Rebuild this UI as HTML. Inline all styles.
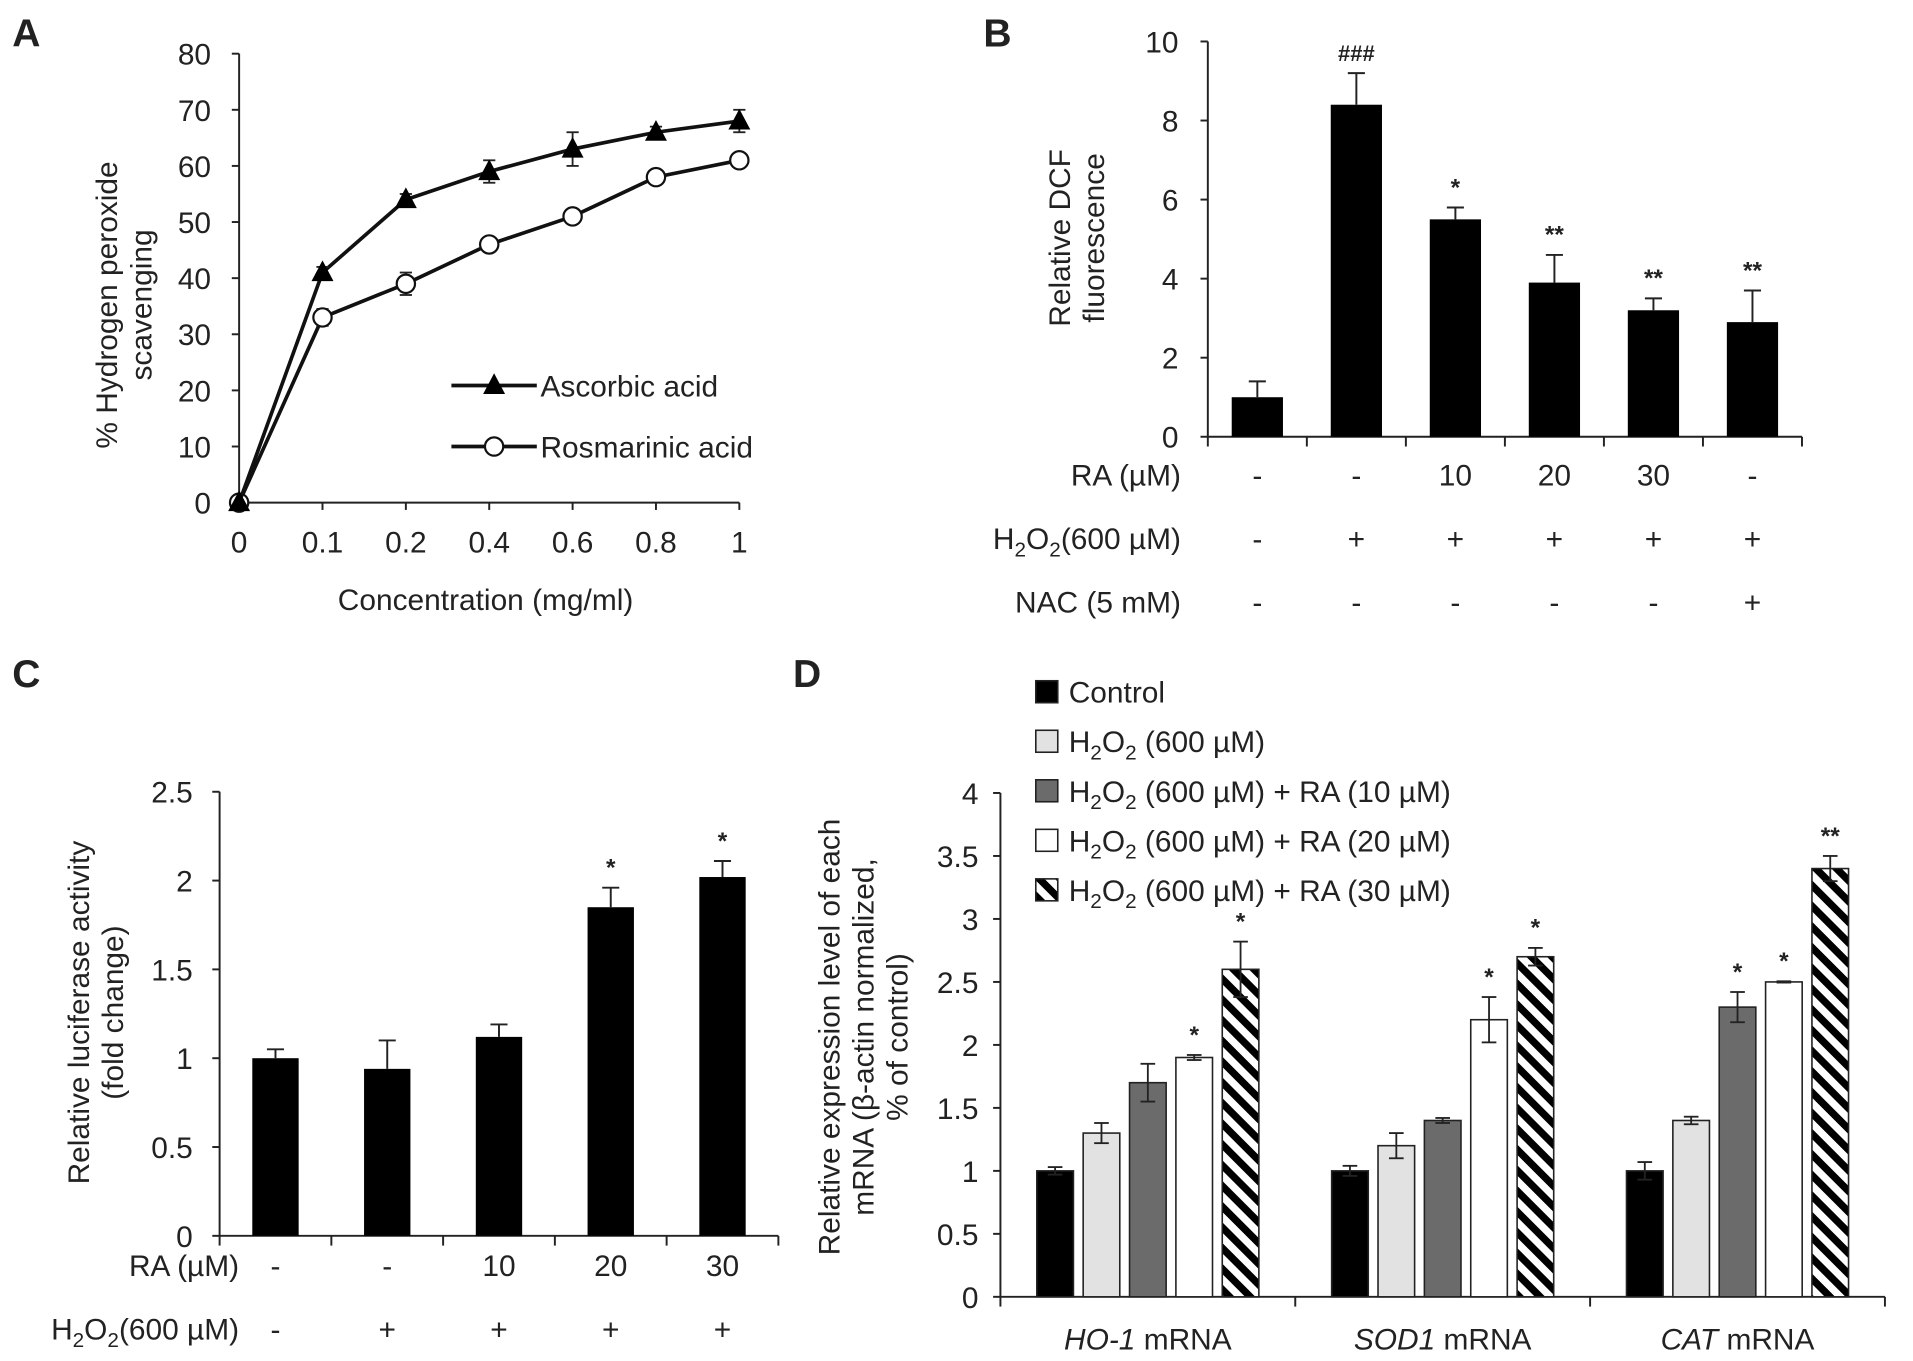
<!DOCTYPE html>
<html><head><meta charset="utf-8"><style>
html,body{margin:0;padding:0;background:#fff;}
svg{display:block;font-family:"Liberation Sans",Arial,sans-serif;}
text{fill:#222;}
</style></head><body>
<svg id="fig" width="1913" height="1361" viewBox="0 0 1568 1115.6" preserveAspectRatio="none" xmlns="http://www.w3.org/2000/svg">
<defs>
<pattern id="hatch" patternUnits="userSpaceOnUse" width="12" height="12" patternTransform="rotate(45)">
<rect width="12" height="12" fill="#fff"/><rect width="12" height="6" fill="#000"/>
</pattern>
</defs>
<g id="pA"></g>
<g id="pB"></g>
<g id="pC"></g>
<g id="pD"></g>
</svg>
<script>
// ---- Panel A data ----
const aCats = ["0","0.1","0.2","0.4","0.6","0.8","1"];
const aAsc = [0,41,54,59,63,66,68];
const aAscErr = [0,1,1,2,3,1,2];
const aRos = [0,33,39,46,51,58,61];
const aRosErr = [0,1.5,2,1,0.8,0.8,0.8];
const aTicks = [0,10,20,30,40,50,60,70,80];
// ---- Panel B data ----
const bVals = [1.0,8.4,5.5,3.9,3.2,2.9];
const bErr = [0.4,0.8,0.3,0.7,0.3,0.8];
const bSig = ["","###","*","**","**","**"];
const bRA = ["-","-","10","20","30","-"];
const bH2O2 = ["-","+","+","+","+","+"];
const bNAC = ["-","-","-","-","-","+"];
const bTicks = [0,2,4,6,8,10];
// ---- Panel C data ----
const cVals = [1.0,0.94,1.12,1.85,2.02];
const cErr = [0.05,0.16,0.07,0.11,0.09];
const cSig = ["","","","*","*"];
const cRA = ["-","-","10","20","30"];
const cH2O2 = ["-","+","+","+","+"];
const cTicks = [0,0.5,1,1.5,2,2.5];
// ---- Panel D data ----
const dGroups = ["HO-1","SOD1","CAT"];
const dControl = [1.0,1.0,1.0];
const dH2O2 = [1.3,1.2,1.4];
const dRA10 = [1.7,1.4,2.3];
const dRA20 = [1.9,2.2,2.5];
const dRA30 = [2.6,2.7,3.4];
const dControlErr = [0.03,0.04,0.07];
const dH2O2Err = [0.08,0.1,0.03];
const dRA10Err = [0.15,0.02,0.12];
const dRA20Err = [0.02,0.18,0.005];
const dRA30Err = [0.22,0.07,0.1];
const dSig = [["","","","*","*"],["","","","*","*"],["","","*","*","**"]];
const dTicks = [0,0.5,1,1.5,2,2.5,3,3.5,4];

const NS="http://www.w3.org/2000/svg";
const FS=24.5;
function el(parent,tag,attrs,txt){const e=document.createElementNS(NS,tag);for(const k in attrs)e.setAttribute(k,attrs[k]);if(txt!==undefined)e.textContent=txt;parent.appendChild(e);return e;}
function line(p,x1,y1,x2,y2,w){return el(p,'line',{x1,y1,x2,y2,stroke:'#222','stroke-width':w||1.6});}
function ytext(p,x,y,s,anchor,size){return el(p,'text',{x,y,'font-size':size||FS,'text-anchor':anchor||'end'},s);}
const H2O2HTML='H<tspan font-size="17" dy="6">2</tspan><tspan dy="-6">O</tspan><tspan font-size="17" dy="6">2</tspan><tspan dy="-6">';

// ---------- Panel A ----------
(function(){
const g=document.getElementById('pA');
const x0=196, y0=412, y80=44;
const ys=v=>y0-(v/80)*(y0-y80);
const xs=i=>196+i*(606-196)/(aCats.length-1);
let t=el(g,'text',{x:10,y:38,'font-size':32,'font-weight':'bold'},'A');

line(g,x0,y80,x0,y0);line(g,x0,y0,606,y0);
aTicks.forEach(v=>{line(g,x0-6,ys(v),x0,ys(v));const tt=ytext(g,173,ys(v)+9,String(v));});
aCats.forEach((c,i)=>{line(g,xs(i),y0,xs(i),y0+6);const tt=ytext(g,xs(i),453,c,'middle');});
t=el(g,'text',{x:398,y:500,'font-size':FS,'text-anchor':'middle'},'Concentration (mg/ml)');

t=el(g,'text',{transform:'translate(96,250) rotate(-90)','font-size':FS,'text-anchor':'middle'},'% Hydrogen peroxide');

el(g,'text',{transform:'translate(124,250) rotate(-90)','font-size':FS,'text-anchor':'middle'},'scavenging');
function series(vals,errs,name,marker){
  const sg=el(g,'g',{});
  
  el(sg,'polyline',{points:vals.map((v,i)=>xs(i)+','+ys(v)).join(' '),fill:'none',stroke:'#111','stroke-width':3});
  vals.forEach((v,i)=>{
    if(errs[i]>0){line(sg,xs(i),ys(v+errs[i]),xs(i),ys(v-errs[i]),1.5);line(sg,xs(i)-5,ys(v+errs[i]),xs(i)+5,ys(v+errs[i]),1.5);line(sg,xs(i)-5,ys(v-errs[i]),xs(i)+5,ys(v-errs[i]),1.5);}
    marker(sg,xs(i),ys(v));
  });
}
const tri=(p,x,y)=>el(p,'polygon',{points:`${x},${y-10} ${x-9},${y+7} ${x+9},${y+7}`,fill:'#000'});
const circ=(p,x,y)=>el(p,'circle',{cx:x,cy:y,r:7.5,fill:'#fff',stroke:'#111','stroke-width':1.8});
series(aRos,aRosErr,'series-rosmarinic-acid',circ);
series(aAsc,aAscErr,'series-ascorbic-acid',tri);
const lg=el(g,'g',{});
el(lg,'line',{x1:370,y1:316,x2:440,y2:316,stroke:'#111','stroke-width':3});tri(lg,405,316);
el(lg,'text',{x:443,y:325,'font-size':FS},'Ascorbic acid');
el(lg,'line',{x1:370,y1:366,x2:440,y2:366,stroke:'#111','stroke-width':3});circ(lg,405,366);
el(lg,'text',{x:443,y:375,'font-size':FS},'Rosmarinic acid');
})();

// ---------- Panel B ----------
(function(){
const g=document.getElementById('pB');
const x0=990,x1=1477,y0=358,yT=34;
const ys=v=>y0-(v/10)*(y0-yT);
const w=(x1-x0)/bVals.length;
const xc=i=>x0+w*(i+0.5);
let t=el(g,'text',{x:806,y:38,'font-size':32,'font-weight':'bold'},'B');

line(g,x0,yT,x0,y0);line(g,x0,y0,x1,y0);
bTicks.forEach(v=>{line(g,x0-6,ys(v),x0,ys(v));const tt=ytext(g,966,ys(v)+9,String(v));});
for(let i=0;i<=bVals.length;i++)line(g,x0+w*i,y0,x0+w*i,y0+8);
t=el(g,'text',{transform:'translate(877,195) rotate(-90)','font-size':FS,'text-anchor':'middle'},'Relative DCF');

el(g,'text',{transform:'translate(905,195) rotate(-90)','font-size':FS,'text-anchor':'middle'},'fluorescence');
bVals.forEach((v,i)=>{
  const b=el(g,'rect',{x:xc(i)-21,y:ys(v),width:42,height:y0-ys(v),fill:'#000'});
  
  line(g,xc(i),ys(v),xc(i),ys(v+bErr[i]),1.6);line(g,xc(i)-7,ys(v+bErr[i]),xc(i)+7,ys(v+bErr[i]),1.6);
  if(bSig[i]){const s=el(g,'text',{x:xc(i),y:ys(v+bErr[i])-10,'font-size':bSig[i][0]=='#'?18:20,'text-anchor':'middle','font-weight':'bold'},bSig[i]);}
});
const rows=[[bRA,398,'RA (µM)'],[bH2O2,450,null],[bNAC,502,'NAC (5 mM)']];
rows.forEach(([arr,y,lab])=>{
  if(lab){ytext(g,968,y,lab);}else{const tt=el(g,'text',{x:968,y,'font-size':FS,'text-anchor':'end'});tt.innerHTML=H2O2HTML+'(600 µM)</tspan>';}
  arr.forEach((s,i)=>{const tt=ytext(g,xc(i),y,s,'middle');});
});
})();

// ---------- Panel C ----------
(function(){
const g=document.getElementById('pC');
const x0=180,x1=638,y0=1013,yT=649;
const ys=v=>y0-(v/2.5)*(y0-yT);
const w=(x1-x0)/cVals.length;
const xc=i=>x0+w*(i+0.5);
let t=el(g,'text',{x:10,y:563,'font-size':32,'font-weight':'bold'},'C');

line(g,x0,yT,x0,y0);line(g,x0,y0,x1,y0);
cTicks.forEach(v=>{line(g,x0-6,ys(v),x0,ys(v));const tt=ytext(g,158,ys(v)+9,String(v));});
for(let i=0;i<=cVals.length;i++)line(g,x0+w*i,y0,x0+w*i,y0+8);
t=el(g,'text',{transform:'translate(73,830) rotate(-90)','font-size':FS,'text-anchor':'middle'},'Relative luciferase activity');

el(g,'text',{transform:'translate(101,830) rotate(-90)','font-size':FS,'text-anchor':'middle'},'(fold change)');
cVals.forEach((v,i)=>{
  const b=el(g,'rect',{x:xc(i)-19,y:ys(v),width:38,height:y0-ys(v),fill:'#000'});
  
  line(g,xc(i),ys(v),xc(i),ys(v+cErr[i]),1.6);line(g,xc(i)-7,ys(v+cErr[i]),xc(i)+7,ys(v+cErr[i]),1.6);
  if(cSig[i]){const s=el(g,'text',{x:xc(i),y:ys(v+cErr[i])-10,'font-size':20,'text-anchor':'middle','font-weight':'bold'},cSig[i]);}
});
ytext(g,196,1046,'RA (µM)');
const tt=el(g,'text',{x:196,y:1098,'font-size':FS,'text-anchor':'end'});tt.innerHTML=H2O2HTML+'(600 µM)</tspan>';
cRA.forEach((s,i)=>{const a=ytext(g,xc(i),1046,s,'middle');});
cH2O2.forEach((s,i)=>{const a=ytext(g,xc(i),1098,s,'middle');});
})();

// ---------- Panel D ----------
(function(){
const g=document.getElementById('pD');
const x0=820,x1=1545,y0=1063,yT=650;
const ys=v=>y0-(v/4)*(y0-yT);
const gw=(x1-x0)/dGroups.length;
const series=[dControl,dH2O2,dRA10,dRA20,dRA30];
const errs=[dControlErr,dH2O2Err,dRA10Err,dRA20Err,dRA30Err];
const fills=['#000','#e2e2e2','#6b6b6b','#fff','url(#hatch)'];
let t=el(g,'text',{x:650,y:563,'font-size':32,'font-weight':'bold'},'D');

line(g,x0,yT,x0,y0);line(g,x0,y0,x1,y0);
dTicks.forEach(v=>{line(g,x0-6,ys(v),x0,ys(v));const tt=ytext(g,802,ys(v)+9,String(v));});
for(let i=0;i<=dGroups.length;i++)line(g,x0+gw*i,y0,x0+gw*i,y0+8);
t=el(g,'text',{transform:'translate(688,850) rotate(-90)','font-size':FS,'text-anchor':'middle'},'Relative expression level of each');

el(g,'text',{transform:'translate(716,850) rotate(-90)','font-size':FS,'text-anchor':'middle'},'mRNA (β-actin normalized,');
el(g,'text',{transform:'translate(744,850) rotate(-90)','font-size':FS,'text-anchor':'middle'},'% of control)');
dGroups.forEach((gn,gi)=>{
  const gc=x0+gw*(gi+0.5);
  series.forEach((arr,si)=>{
    const v=arr[gi],e=errs[si][gi],xc=gc+(si-2)*38;
    const b=el(g,'rect',{x:xc-15,y:ys(v),width:30,height:y0-ys(v),fill:fills[si],stroke:'#222','stroke-width':1.3});
    
    line(g,xc,ys(v+e),xc,ys(v-e),1.5);line(g,xc-6,ys(v+e),xc+6,ys(v+e),1.5);line(g,xc-6,ys(v-e),xc+6,ys(v-e),1.5);
    const sg=dSig[gi][si];
    if(sg){const s=el(g,'text',{x:xc,y:ys(v+e)-10,'font-size':20,'text-anchor':'middle','font-weight':'bold'},sg);}
  });
  const lt=el(g,'text',{x:gc,y:1106,'font-size':FS,'text-anchor':'middle'});
  
  lt.innerHTML='<tspan font-style="italic">'+gn+'</tspan> mRNA';
});
const leg=el(g,'g',{});
const suffix=['','',' + RA (10 µM)',' + RA (20 µM)',' + RA (30 µM)'];
suffix.forEach((sfx,i)=>{
  const y=567+i*40.6;
  const e=el(leg,'g',{});
  el(e,'rect',{x:849,y:y-9,width:18,height:18,fill:fills[i],stroke:'#222','stroke-width':1.3});
  const tx=el(e,'text',{x:876,y:y+9,'font-size':FS});
  if(i==0)tx.textContent='Control';
  else tx.innerHTML=H2O2HTML+' (600 µM)'+sfx+'</tspan>';
});
})();
</script>
</body></html>
